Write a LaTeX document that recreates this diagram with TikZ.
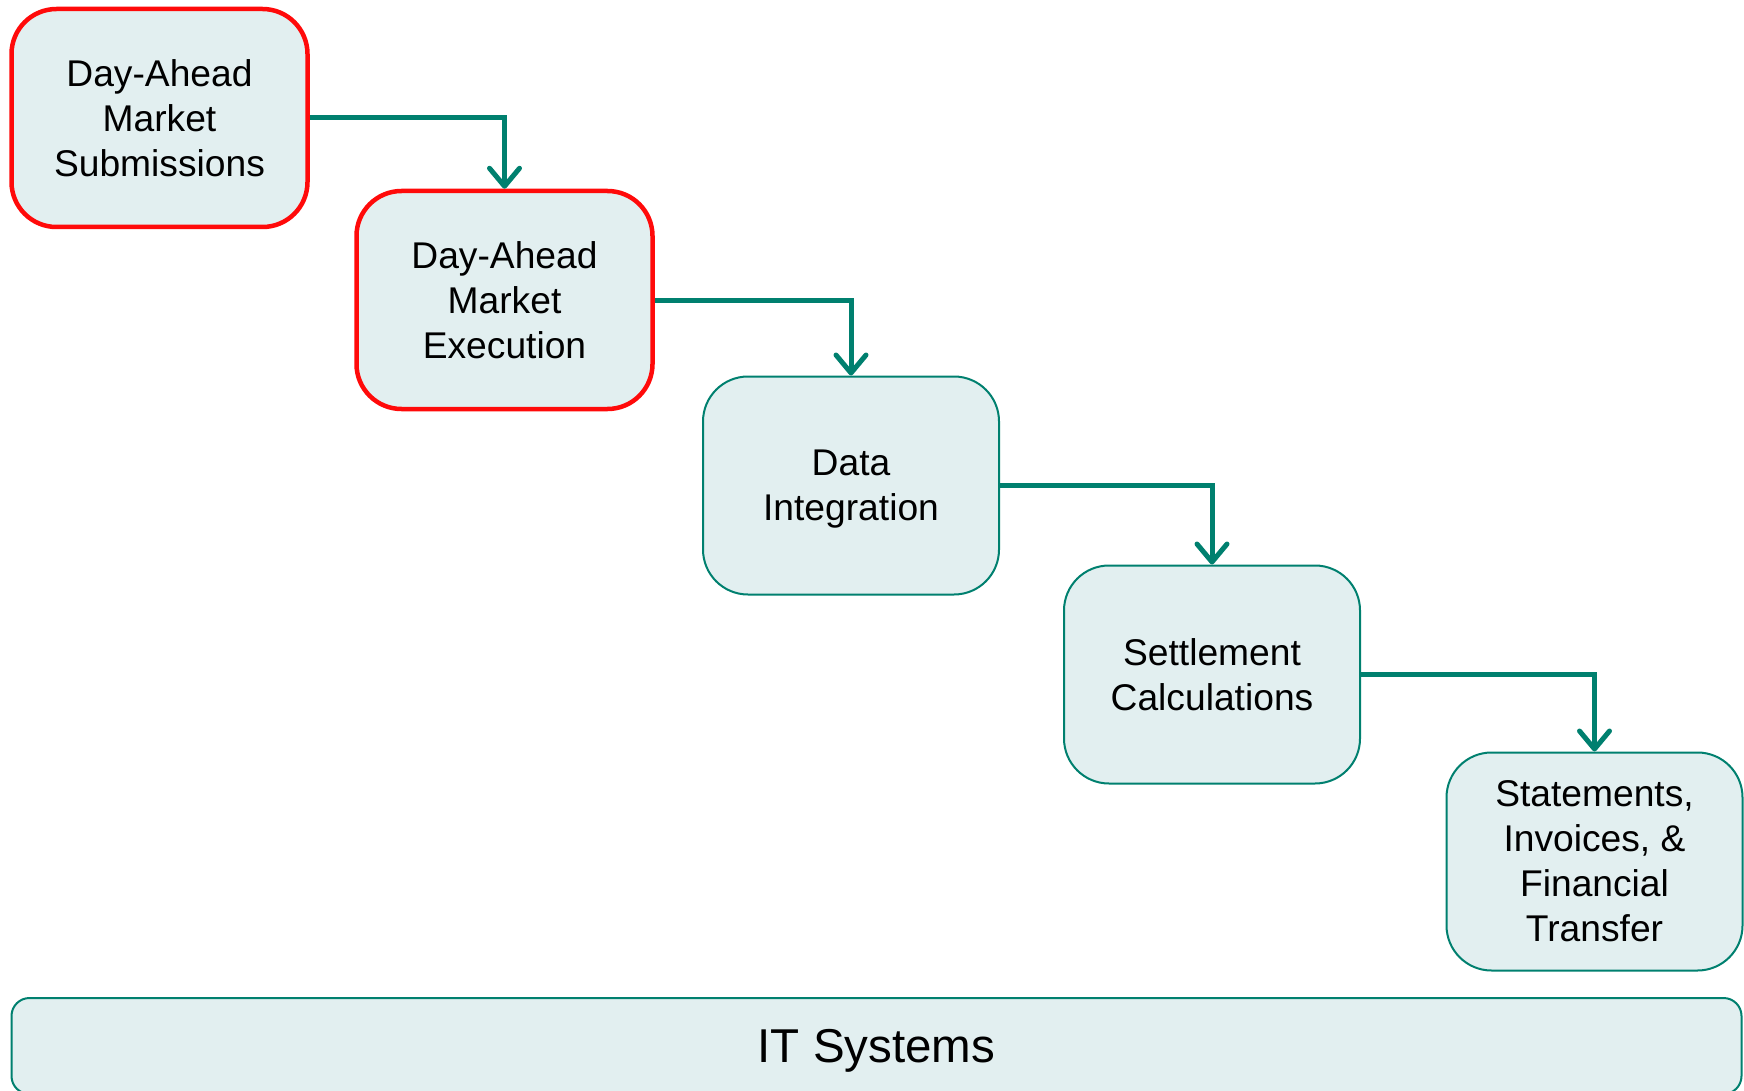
\documentclass[tikz,border=0pt]{standalone}
\usepackage{fontspec}
\setmainfont{Liberation Sans}
\usetikzlibrary{arrows.meta}
\definecolor{boxfill}{HTML}{E2EFF0}
\definecolor{teal}{HTML}{00806F}
\definecolor{hired}{HTML}{FF0A0A}
\newcommand{\nodepth}[1]{\raisebox{0pt}[\height][0pt]{#1}}
\begin{document}
\begin{tikzpicture}[x=1pt,y=-1pt,
  stepbox/.style={draw=teal, line width=2pt, fill=boxfill, rounded corners=45pt,
    minimum width=296pt, minimum height=218pt, align=center, inner sep=0pt,
    font=\fontsize{37.2}{45}\selectfont},
  hot/.style={draw=hired, line width=4.5pt},
  conn/.style={draw=teal, line width=5pt, -{Straight Barb[length=18pt,width=30pt,round]}},
]
\path[use as bounding box, fill=white] (0,0) rectangle (1744,1091);
\node[stepbox, hot] (b1) at (159.5,118) {Day-Ahead\\Market\\Submissions};
\node[stepbox, hot] (b2) at (504.5,300) {Day-Ahead\\Market\\Execution};
\node[stepbox] (b3) at (851,485.5) {Data\\\nodepth{Integration}};
\node[stepbox] (b4) at (1212,674.5) {Settlement\\Calculations};
\node[stepbox] (b5) at (1594.5,861.5) {Statements,\\Invoices, \&\\Financial\\Transfer};
\node[stepbox, rounded corners=18pt, minimum width=1730pt, minimum height=96pt,
  font=\fontsize{47.5}{52}\selectfont] (it) at (876.5,1046) {\nodepth{IT Systems}};
\draw[conn] (b1.east) -| (b2.north);
\draw[conn] (b2.east) -| (b3.north);
\draw[conn] (b3.east) -| (b4.north);
\draw[conn] (b4.east) -| (b5.north);
\end{tikzpicture}
\end{document}
